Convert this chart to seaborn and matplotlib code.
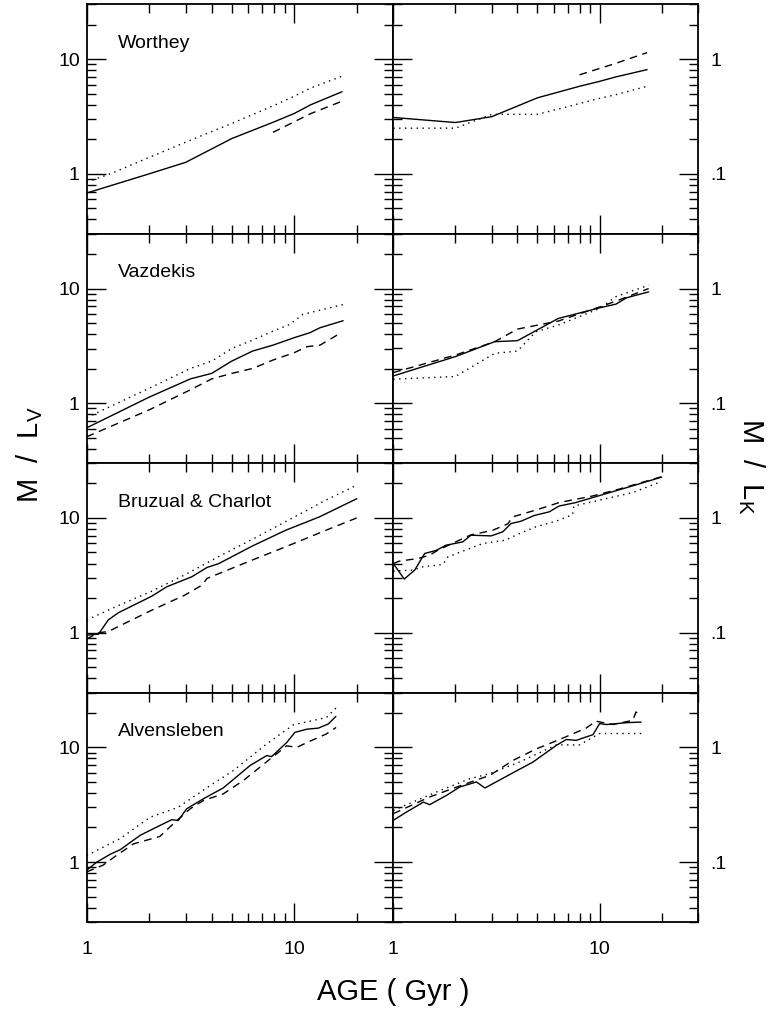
import math
import matplotlib
matplotlib.use("Agg")
import matplotlib.pyplot as plt
from matplotlib.ticker import FixedLocator, FixedFormatter, NullFormatter
import seaborn as sns

sns.set_style("ticks")
plt.rcParams["font.family"] = ["Liberation Sans", "DejaVu Sans"]
plt.rcParams["mathtext.fontset"] = "custom"
plt.rcParams["mathtext.rm"] = "Liberation Sans"
plt.rcParams["mathtext.it"] = "Liberation Sans"
for key in ["text.color", "axes.labelcolor", "xtick.color", "ytick.color",
            "axes.edgecolor"]:
    plt.rcParams[key] = "black"

# ---------------------------------------------------------------- data
MODELS = ["Worthey", "Vazdekis", "Bruzual & Charlot", "Alvensleben"]

# Worthey: M/L_V
WOR_V_SOLID_AGE = [1, 2, 3, 5, 8, 10, 12, 17]
WOR_V_SOLID = [0.68, 1.0, 1.26, 2.03, 2.84, 3.36, 4.0, 5.2]
WOR_V_DOT_AGE = [1, 1.3, 2, 3, 5, 8, 10, 12, 17]
WOR_V_DOT = [0.85, 1.0, 1.39, 1.89, 2.75, 3.95, 4.75, 5.6, 7.1]
WOR_V_DASH_AGE = [7.9, 12, 17]
WOR_V_DASH = [2.3, 3.35, 4.3]
# Worthey: M/L_K
WOR_K_SOLID_AGE = [1, 2, 3, 5, 8, 10, 12, 17]
WOR_K_SOLID = [0.31, 0.28, 0.315, 0.46, 0.58, 0.64, 0.70, 0.81]
WOR_K_DOT_AGE = [1, 2, 3, 5, 8, 10, 12, 17]
WOR_K_DOT = [0.25, 0.25, 0.33, 0.33, 0.41, 0.455, 0.49, 0.58]
WOR_K_DASH_AGE = [8, 12, 17]
WOR_K_DASH = [0.73, 0.92, 1.14]

# Vazdekis: M/L_V
VAZ_V_SOLID_AGE = [1, 2, 3.16, 4, 5, 6.3, 7.9, 10, 11.9, 13.3, 17.2]
VAZ_V_SOLID = [0.61, 1.13, 1.63, 1.82, 2.33, 2.85, 3.21, 3.73, 4.12, 4.55, 5.24]
VAZ_V_DOT_AGE = [1, 2, 3.16, 4, 5, 6.3, 7.9, 9.5, 11, 17.2]
VAZ_V_DOT = [0.75, 1.35, 2.01, 2.33, 3.0, 3.55, 4.25, 4.86, 5.95, 7.26]
VAZ_V_DASH_AGE = [1, 2, 3.16, 4, 5, 6.3, 7.9, 10, 11.5, 13.3, 16.3]
VAZ_V_DASH = [0.51, 0.875, 1.31, 1.63, 1.82, 2.01, 2.38, 2.76, 3.11, 3.21, 3.98]
# Vazdekis: M/L_K
VAZ_K_SOLID_AGE = [1, 2, 3.1, 4, 6.3, 10, 12, 13.5, 17.3]
VAZ_K_SOLID = [0.173, 0.255, 0.344, 0.351, 0.548, 0.679, 0.731, 0.83, 0.935]
VAZ_K_DOT_AGE = [1, 2, 3.1, 4, 4.9, 6.3, 10, 12, 17.3]
VAZ_K_DOT = [0.162, 0.171, 0.272, 0.285, 0.42, 0.48, 0.67, 0.85, 1.07]
VAZ_K_DASH_AGE = [1, 2, 3.1, 4, 5.5, 6.3, 10, 12, 17.3]
VAZ_K_DASH = [0.185, 0.263, 0.344, 0.443, 0.496, 0.52, 0.69, 0.776, 1.0]

# Bruzual & Charlot: M/L_V
BC_V_SOLID_AGE = [1, 1.14, 1.27, 1.42, 2.06, 2.43, 3.21, 3.8, 4.33, 6.27, 9.08, 13.2, 20]
BC_V_SOLID = [0.95, 0.97, 1.29, 1.49, 2.08, 2.51, 3.07, 3.7, 4.0, 5.68, 7.8, 10.2, 14.7]
BC_V_DOT_AGE = [1, 1.42, 2.06, 2.98, 4.32, 6.27, 9.1, 14.1, 20]
BC_V_DOT = [1.29, 1.72, 2.3, 3.2, 4.6, 6.5, 9.3, 14.2, 19.3]
BC_V_DASH_AGE = [1, 1.14, 1.27, 1.42, 2.06, 2.98, 3.6, 3.8, 6.27, 9.08, 14.2, 20]
BC_V_DASH = [0.88, 1.0, 1.02, 1.13, 1.57, 2.13, 2.6, 2.97, 4.29, 5.6, 7.8, 10.0]
# Bruzual & Charlot: M/L_K
BC_K_SOLID_AGE = [1, 1.13, 1.27, 1.42, 1.61, 1.8, 2.17, 2.38, 2.98, 3.39, 3.72,
                  4.15, 4.82, 5.7, 6.36, 7.65, 14.4, 20]
BC_K_SOLID = [0.40, 0.293, 0.351, 0.49, 0.52, 0.578, 0.618, 0.707, 0.697, 0.756,
              0.893, 0.935, 1.05, 1.13, 1.27, 1.36, 1.9, 2.27]
BC_K_DOT_AGE = [1, 1.24, 1.39, 1.74, 1.84, 2.71, 3.5, 4.08, 4.9, 6.36, 7.4, 7.5, 14.4, 20]
BC_K_DOT = [0.344, 0.351, 0.375, 0.393, 0.458, 0.598, 0.64, 0.73, 0.835, 0.955,
            1.07, 1.27, 1.66, 2.08]
BC_K_DASH_AGE = [1, 1.07, 1.32, 1.5, 1.65, 2.37, 3.03, 3.6, 3.78, 4.9, 6.36, 9.2, 12.4, 20]
BC_K_DASH = [0.40, 0.42, 0.443, 0.473, 0.525, 0.71, 0.78, 0.89, 1.02, 1.17, 1.36,
             1.55, 1.78, 2.29]

# Alvensleben: M/L_V
ALV_V_SOLID_AGE = [1, 1.12, 1.30, 1.45, 1.81, 2.25, 2.57, 2.76, 3.03, 3.65, 4.55,
                   6.12, 7.36, 7.78, 9.19, 10.07, 11.5, 13.05, 14.6, 15.86]
ALV_V_SOLID = [0.85, 1.0, 1.17, 1.28, 1.71, 2.08, 2.34, 2.30, 2.91, 3.56, 4.43,
               6.93, 8.47, 8.3, 11.0, 13.5, 14.4, 14.7, 16.0, 18.6]
ALV_V_DOT_AGE = [1, 1.45, 2.02, 2.76, 3.93, 5.08, 7.36, 9.89, 14.3, 16.0]
ALV_V_DOT = [1.14, 1.6, 2.46, 3.0, 4.64, 6.26, 10.7, 15.7, 18.2, 22.3]
ALV_V_DASH_AGE = [1, 1.2, 1.39, 1.68, 2.25, 2.61, 3.15, 3.65, 4.55, 5.68, 7.64,
                  9.19, 10.3, 11.5, 14.3, 15.9]
ALV_V_DASH = [0.82, 0.94, 1.14, 1.44, 1.67, 2.15, 2.91, 3.44, 3.93, 5.13, 7.9,
              10.3, 10.0, 11.0, 13.1, 14.9]
# Alvensleben: M/L_K
ALV_K_SOLID_AGE = [1, 1.16, 1.40, 1.50, 1.81, 2.10, 2.53, 2.78, 3.81, 4.76, 6.17,
                   6.9, 7.7, 9.29, 10, 10.8, 13.5, 15.9]
ALV_K_SOLID = [0.231, 0.273, 0.333, 0.316, 0.381, 0.451, 0.499, 0.442, 0.601, 0.745,
               1.04, 1.17, 1.15, 1.29, 1.61, 1.58, 1.64, 1.66]
ALV_K_DOT_AGE = [1, 1.62, 2.35, 2.94, 4.1, 6.17, 8.0, 10, 16.2]
ALV_K_DOT = [0.282, 0.408, 0.533, 0.59, 0.745, 1.05, 1.05, 1.32, 1.32]
ALV_K_DASH_AGE = [1, 1.5, 2.18, 2.94, 3.81, 4.94, 6.4, 8.6, 9.6, 11.6, 14.5, 15.0, 15.9]
ALV_K_DASH = [0.264, 0.369, 0.472, 0.57, 0.77, 0.97, 1.17, 1.47, 1.69, 1.58, 1.72,
              2.03, 1.93]

PANELS_V = [
    [(WOR_V_SOLID_AGE, WOR_V_SOLID), (WOR_V_DOT_AGE, WOR_V_DOT), (WOR_V_DASH_AGE, WOR_V_DASH)],
    [(VAZ_V_SOLID_AGE, VAZ_V_SOLID), (VAZ_V_DOT_AGE, VAZ_V_DOT), (VAZ_V_DASH_AGE, VAZ_V_DASH)],
    [(BC_V_SOLID_AGE, BC_V_SOLID), (BC_V_DOT_AGE, BC_V_DOT), (BC_V_DASH_AGE, BC_V_DASH)],
    [(ALV_V_SOLID_AGE, ALV_V_SOLID), (ALV_V_DOT_AGE, ALV_V_DOT), (ALV_V_DASH_AGE, ALV_V_DASH)],
]
PANELS_K = [
    [(WOR_K_SOLID_AGE, WOR_K_SOLID), (WOR_K_DOT_AGE, WOR_K_DOT), (WOR_K_DASH_AGE, WOR_K_DASH)],
    [(VAZ_K_SOLID_AGE, VAZ_K_SOLID), (VAZ_K_DOT_AGE, VAZ_K_DOT), (VAZ_K_DASH_AGE, VAZ_K_DASH)],
    [(BC_K_SOLID_AGE, BC_K_SOLID), (BC_K_DOT_AGE, BC_K_DOT), (BC_K_DASH_AGE, BC_K_DASH)],
    [(ALV_K_SOLID_AGE, ALV_K_SOLID), (ALV_K_DOT_AGE, ALV_K_DOT), (ALV_K_DASH_AGE, ALV_K_DASH)],
]

X_TICKS = [1, 10]
X_TICK_LABELS = ["1", "10"]
V_TICKS = [1, 10]
V_TICK_LABELS = ["1", "10"]
K_TICKS = [0.1, 1]
K_TICK_LABELS = [".1", "1"]

# ---------------------------------------------------------------- layout
W, H = 771, 1014
fig = plt.figure(figsize=(W / 100, H / 100), dpi=100)

left_px, mid_px, right_px = 86.7, 393.3, 698.0
top_px, bottom_px = 4.4, 922.0
row_h = (bottom_px - top_px) / 4

STYLES = ["-", (0, (1, 3.2)), (0, (5.5, 4))]


def minor_decade(lo_exp, hi_exp):
    return [m * 10.0 ** e for e in range(lo_exp, hi_exp) for m in range(2, 10)]


def style_axes(ax, ylim, yticks, ylabels, side, bottom_row):
    ax.set_xscale("log")
    ax.set_yscale("log")
    ax.set_xlim(1, 30)
    ax.set_ylim(*ylim)
    ax.xaxis.set_major_locator(FixedLocator(X_TICKS))
    ax.xaxis.set_minor_locator(FixedLocator(minor_decade(0, 2)))
    ax.yaxis.set_major_locator(FixedLocator(yticks))
    lo = int(round(math.log10(ylim[0]))) - 1
    ax.yaxis.set_minor_locator(FixedLocator(minor_decade(lo, lo + 4)))
    ax.xaxis.set_minor_formatter(NullFormatter())
    ax.yaxis.set_minor_formatter(NullFormatter())
    if bottom_row:
        ax.xaxis.set_major_formatter(FixedFormatter(X_TICK_LABELS))
    else:
        ax.xaxis.set_major_formatter(NullFormatter())
    ax.yaxis.set_major_formatter(FixedFormatter(ylabels))
    ax.tick_params(which="both", direction="in", top=True, bottom=True,
                   left=True, right=True, width=1.0, color="black",
                   labelcolor="black")
    ax.tick_params(which="major", length=14)
    ax.tick_params(which="minor", length=6.5)
    ax.tick_params(axis="x", which="major", pad=14, labelsize=14)
    if side == "left":
        ax.tick_params(axis="y", labelleft=True, labelright=False, pad=5, labelsize=14)
    else:
        ax.tick_params(axis="y", labelleft=False, labelright=True, pad=9, labelsize=14)
    for sp in ax.spines.values():
        sp.set_linewidth(1.3)
        sp.set_color("black")
    ax.set_xlabel("")
    ax.set_ylabel("")


for r in range(4):
    y0 = 1 - (top_px + (r + 1) * row_h) / H
    hgt = row_h / H
    ax_v = fig.add_axes([left_px / W, y0, (mid_px - left_px) / W, hgt])
    ax_k = fig.add_axes([mid_px / W, y0, (right_px - mid_px) / W, hgt])

    for (age, val), ls in zip(PANELS_V[r], STYLES):
        sns.lineplot(x=age, y=val, ax=ax_v, color="black", linewidth=1.0,
                     linestyle=ls, estimator=None, sort=False)
    for (age, val), ls in zip(PANELS_K[r], STYLES):
        sns.lineplot(x=age, y=val, ax=ax_k, color="black", linewidth=1.0,
                     linestyle=ls, estimator=None, sort=False)

    style_axes(ax_v, (0.3, 30), V_TICKS, V_TICK_LABELS, "left", r == 3)
    style_axes(ax_k, (0.03, 3), K_TICKS, K_TICK_LABELS, "right", r == 3)

    ax_v.text(0.1025, 0.81, MODELS[r], transform=ax_v.transAxes,
              fontsize=14, ha="left", va="baseline", color="black")

fig.text(0.51, 0.0138, "AGE ( Gyr )", ha="center", va="baseline", fontsize=21,
         color="black")
fig.text(0.039, 0.552, r"M  /  L$_{\mathrm{V}}$", rotation=90,
         ha="center", va="center", fontsize=21, color="black")
fig.text(0.975, 0.54, r"M  /  L$_{\mathrm{K}}$", rotation=270,
         ha="center", va="center", fontsize=21, color="black")

fig.savefig("out.png", dpi=100)
